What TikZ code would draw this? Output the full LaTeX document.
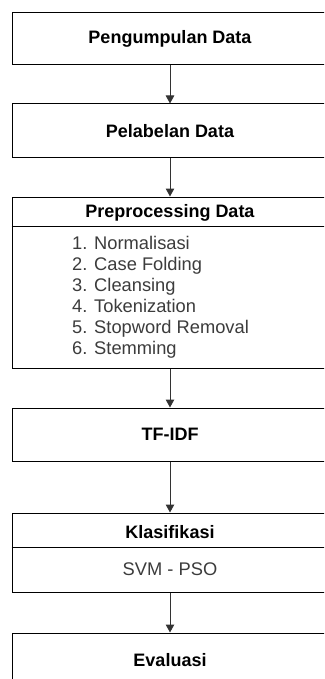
\documentclass[tikz,border=0pt]{standalone}
\usepackage{fontspec}
\setmainfont{Liberation Sans}
\usetikzlibrary{arrows.meta}
\definecolor{linec}{HTML}{333333}
\definecolor{txtgray}{HTML}{3C3C3C}
\begin{document}
\begin{tikzpicture}[x=1pt,y=-1pt,
  box/.style={draw=black, line width=1pt, minimum width=316pt, inner sep=0pt, fill=white,
              font=\fontsize{18}{21}\selectfont\bfseries, text=black},
  title/.style={font=\fontsize{18}{21}\selectfont\bfseries, text=black, inner sep=0pt},
  body/.style={font=\fontsize{18.3}{21}\selectfont, text=txtgray, inner sep=0pt},
  divider/.style={draw=black, line width=1pt},
  conn/.style={draw=linec, line width=1pt, -{Triangle[width=8.5pt,length=8pt]}}]
\useasboundingbox (0,0) rectangle (324,679);
\fill[white] (0,0) rectangle (324,679);
\clip (0,0) rectangle (324,679);

\node[box, minimum height=52pt] (b1) at (170,39) {Pengumpulan Data};
\node[box, minimum height=54pt] (b2) at (170,131) {Pelabelan Data};

\node[box, minimum height=171pt] (b3) at (170,282.5) {};
\node[title] (h3) at (170,213) {Preprocessing Data};
\draw[divider] ([yshift=-30pt]b3.north west) -- ([yshift=-30pt]b3.north east);
\node[body, anchor=west, align=left] (l3) at (72,297.5) {1. Normalisasi\\2. Case Folding\\3. Cleansing\\4. Tokenization\\5. Stopword Removal\\6. Stemming};

\node[box, minimum height=53pt] (b4) at (170,434.5) {TF-IDF};

\node[box, minimum height=79pt] (b5) at (170,552.5) {};
\node[title] (h5) at (170,532) {Klasifikasi};
\draw[divider] ([yshift=-35pt]b5.north west) -- ([yshift=-35pt]b5.north east);
\node[body] (s5) at (170,569) {SVM - PSO};

\node[box, minimum height=54pt] (b6) at (170,660) {Evaluasi};

\draw[conn] (b1.south) -- (b2.north);
\draw[conn] (b2.south) -- (b3.north);
\draw[conn] (b3.south) -- (b4.north);
\draw[conn] (b4.south) -- (b5.north);
\draw[conn] (b5.south) -- (b6.north);
\end{tikzpicture}
\end{document}
